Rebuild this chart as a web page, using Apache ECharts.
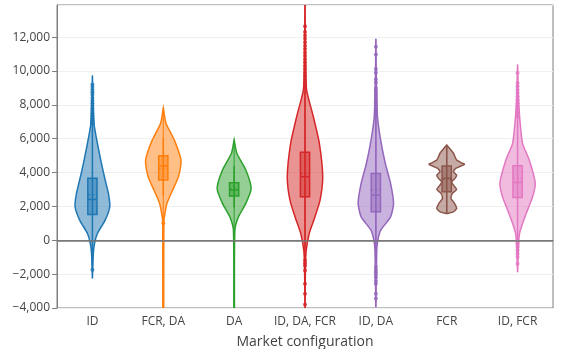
<!DOCTYPE html>
<html>
<head>
    <meta charset="utf-8">
    <title>Revenue violins</title>
    <script src="https://cdn.jsdelivr.net/npm/echarts@6.0.0/dist/echarts.min.js"></script>
</head>
<body style="margin:0">
    <div id="chart" style="width:581px;height:349px;"></div>
    <script>
        // market configurations on the x axis
        var categories = ['ID', 'FCR, DA', 'DA', 'ID, DA, FCR', 'ID, DA', 'FCR', 'ID, FCR'];
        var colors = ['#1f77b4', '#ff7f0e', '#2ca02c', '#d62728', '#9467bd', '#8c564b', '#e377c2'];

        // violin outlines: [revenue, relative density]
        var violinID = [[-2250, 0], [-780, 0.05], [-180, 0.12], [400, 0.28], [1190, 0.72], [1980, 0.98], [2780, 0.9], [3560, 0.72], [4740, 0.47], [6720, 0.11], [8000, 0.04], [9730, 0]];
        var violinFcrDa = [[-6000, 0], [-4000, 0.025], [1000, 0.03], [1380, 0.06], [2180, 0.21], [2970, 0.53], [3760, 0.86], [4550, 1.0], [4940, 0.96], [5930, 0.62], [6920, 0.15], [7810, 0]];
        var violinDA = [[-6000, 0], [-4000, 0.015], [590, 0.04], [1380, 0.24], [2180, 0.66], [3060, 0.96], [4150, 0.66], [5140, 0.15], [5930, 0]];
        var violinIdDaFcr = [[-4200, 0], [-1580, 0.025], [-590, 0.07], [400, 0.24], [1380, 0.56], [2370, 0.85], [3760, 1.0], [5730, 0.81], [7310, 0.47], [8890, 0.09], [11000, 0.025], [14500, 0]];
        var violinIdDa = [[-3950, 0], [-590, 0.05], [0, 0.11], [590, 0.27], [1380, 0.83], [2180, 1.0], [3360, 0.83], [4550, 0.53], [5930, 0.27], [7310, 0.09], [9500, 0.025], [11900, 0]];
        var violinFCR = [[1580, 0], [1680, 0.38], [1880, 0.56], [2180, 0.44], [2470, 0.24], [2770, 0.32], [3000, 0.56], [3260, 0.38], [3460, 0.28], [3660, 0.47], [3850, 0.56], [4050, 0.38], [4250, 0.51], [4490, 1.0], [4550, 0.89], [4740, 0.56], [5140, 0.38], [5630, 0]];
        var violinIdFcr = [[-1880, 0], [-990, 0.03], [0, 0.07], [400, 0.11], [990, 0.28], [1780, 0.56], [2570, 0.85], [3360, 1.0], [4740, 0.66], [5730, 0.28], [7120, 0.13], [8500, 0.05], [10380, 0]];
        var violins = [violinID, violinFcrDa, violinDA, violinIdDaFcr, violinIdDa, violinFCR, violinIdFcr];

        // box stats: [q1, median, q3, mean, lower whisker, upper whisker]
        var boxStats = [
            [1520, 2410, 3660, 2690, -1500, 6870],
            [3560, 4390, 5000, 4210, 2650, 6030],
            [2610, 2970, 3400, 3040, 1940, 4390],
            [2570, 3760, 5200, 3950, -1100, 9000],
            [1680, 2670, 3950, 2970, -1500, 7300],
            [2870, 3660, 4390, 3600, 1620, 5600],
            [2530, 3420, 4410, 3660, -150, 7230]
        ];

        // suspected outliers
        var outliers = [
            [6900, 7050, 7200, 7350, 7500, 7650, 7800, 7950, 8100, 8250, 8400, 8600, 8750, 8900, 9050, 9200, -1740],
            [1000],
            [],
            [9100, 9300, 9500, 9700, 9900, 10100, 10300, 10500, 10700, 10900, 11100, 11300, 11500, 11700, 11900, 12100, 12300, 12650, -1190, -1350, -1500, -1780, -2570, -3160, -3800],
            [7350, 7500, 7650, 7800, 7950, 8100, 8250, 8400, 8550, 8700, 8850, 9000, 9300, 9500, 9900, 10120, 10970, 11430, -1580, -1750, -1900, -2050, -2200, -2400, -2570, -3160, -3440],
            [],
            [7310, 7500, 7700, 7900, 8100, 8300, 8500, 8700, 8900, 9100, 9290, 9880, -200, -400, -600, -800, -990, -1380]
        ];

        function fade(hex, a) {
            var n = parseInt(hex.slice(1), 16);
            return 'rgba(' + (n >> 16) + ',' + ((n >> 8) & 255) + ',' + (n & 255) + ',' + a + ')';
        }

        function renderViolin(params, api) {
            var i = api.value(0);
            var col = colors[i];
            var band = api.size([1, 0])[0];
            var hw = band * 0.25;
            var bh = band * 0.065;
            var cx = api.coord([i, 0])[0];
            var prof = violins[i];
            var right = [], left = [];
            prof.forEach(function (p) {
                var y = api.coord([i, p[0]])[1];
                right.push([cx + p[1] * hw, y]);
                left.unshift([cx - p[1] * hw, y]);
            });
            var s = boxStats[i];
            var yq1 = api.coord([i, s[0]])[1], ymed = api.coord([i, s[1]])[1];
            var yq3 = api.coord([i, s[2]])[1], ymean = api.coord([i, s[3]])[1];
            var ywl = api.coord([i, s[4]])[1], ywh = api.coord([i, s[5]])[1];
            var ytop = api.coord([i, prof[prof.length - 1][0]])[1];
            var ybot = api.coord([i, prof[0][0]])[1];
            return {
                type: 'group',
                children: [
                    {
                        type: 'polygon',
                        shape: { points: right.concat(left), smooth: 0.2 },
                        style: { fill: fade(col, 0.5), stroke: col, lineWidth: 1.5 }
                    },
                    {
                        type: 'line',
                        shape: { x1: cx, y1: ybot, x2: cx, y2: ytop },
                        style: { stroke: col, lineWidth: 1 }
                    },
                    {
                        type: 'line',
                        shape: { x1: cx, y1: ywl, x2: cx, y2: ywh },
                        style: { stroke: col, lineWidth: 1.5 }
                    },
                    {
                        type: 'rect',
                        shape: { x: cx - bh, y: yq3, width: bh * 2, height: yq1 - yq3 },
                        style: { fill: fade(col, 0.5), stroke: col, lineWidth: 1.5 }
                    },
                    {
                        type: 'line',
                        shape: { x1: cx - bh, y1: ymed, x2: cx + bh, y2: ymed },
                        style: { stroke: col, lineWidth: 1.5 }
                    },
                    {
                        type: 'line',
                        shape: { x1: cx - bh, y1: ymean, x2: cx + bh, y2: ymean },
                        style: { stroke: col, lineWidth: 1.2, lineDash: [2, 2] }
                    }
                ]
            };
        }

        var pointData = [];
        outliers.forEach(function (arr, i) {
            arr.forEach(function (v) { pointData.push([i, v]); });
        });

        function fmt(v) {
            var s = Math.abs(v).toLocaleString('en-US');
            return v < 0 ? '\u2212' + s : s;
        }

        var myChart = echarts.init(document.getElementById('chart'));
        var option = {
            animation: false,
            textStyle: { fontFamily: 'Open Sans' },
            grid: {
                left: 57, right: 28, top: 5, bottom: 41,
                outerBoundsMode: 'none',
                containLabel: false,
                show: true, borderColor: '#7f7f7f', borderWidth: 1
            },
            xAxis: {
                type: 'category',
                data: categories,
                name: 'Market configuration',
                nameLocation: 'middle',
                nameGap: 27,
                nameTextStyle: { fontSize: 14, color: '#444' },
                axisLine: { lineStyle: { color: '#7f7f7f' } },
                axisTick: { alignWithLabel: true, length: 5, lineStyle: { color: '#7f7f7f' } },
                axisLabel: { fontSize: 12, color: '#444', margin: 8, interval: 0 },
                splitLine: { show: false }
            },
            yAxis: {
                type: 'value',
                min: -4000,
                max: 13900,
                interval: 2000,
                name: 'Revenue in \u20ac',
                nameLocation: 'middle',
                nameGap: 44,
                nameTextStyle: { fontSize: 14, color: '#444' },
                axisLine: { show: true, lineStyle: { color: '#7f7f7f' } },
                axisTick: { show: true, length: 5, lineStyle: { color: '#7f7f7f' } },
                axisLabel: { fontSize: 12, color: '#444', margin: 7, showMaxLabel: false, formatter: fmt },
                splitLine: { lineStyle: { color: '#f0f0f0' } }
            },
            series: [
                {
                    type: 'line',
                    data: [],
                    z: 1,
                    markLine: {
                        silent: true,
                        symbol: 'none',
                        label: { show: false },
                        lineStyle: { color: '#777', width: 1.5, type: 'solid' },
                        data: [{ yAxis: 0 }]
                    }
                },
                {
                    type: 'custom',
                    z: 2,
                    clip: true,
                    renderItem: renderViolin,
                    encode: { x: 0, y: 1 },
                    data: categories.map(function (c, i) { return [i, boxStats[i][1]]; })
                },
                {
                    type: 'scatter',
                    z: 3,
                    symbolSize: 4,
                    itemStyle: {
                        color: function (p) { return colors[p.value[0]]; }
                    },
                    data: pointData
                }
            ]
        };
        myChart.setOption(option);
    </script>
</body>
</html>
